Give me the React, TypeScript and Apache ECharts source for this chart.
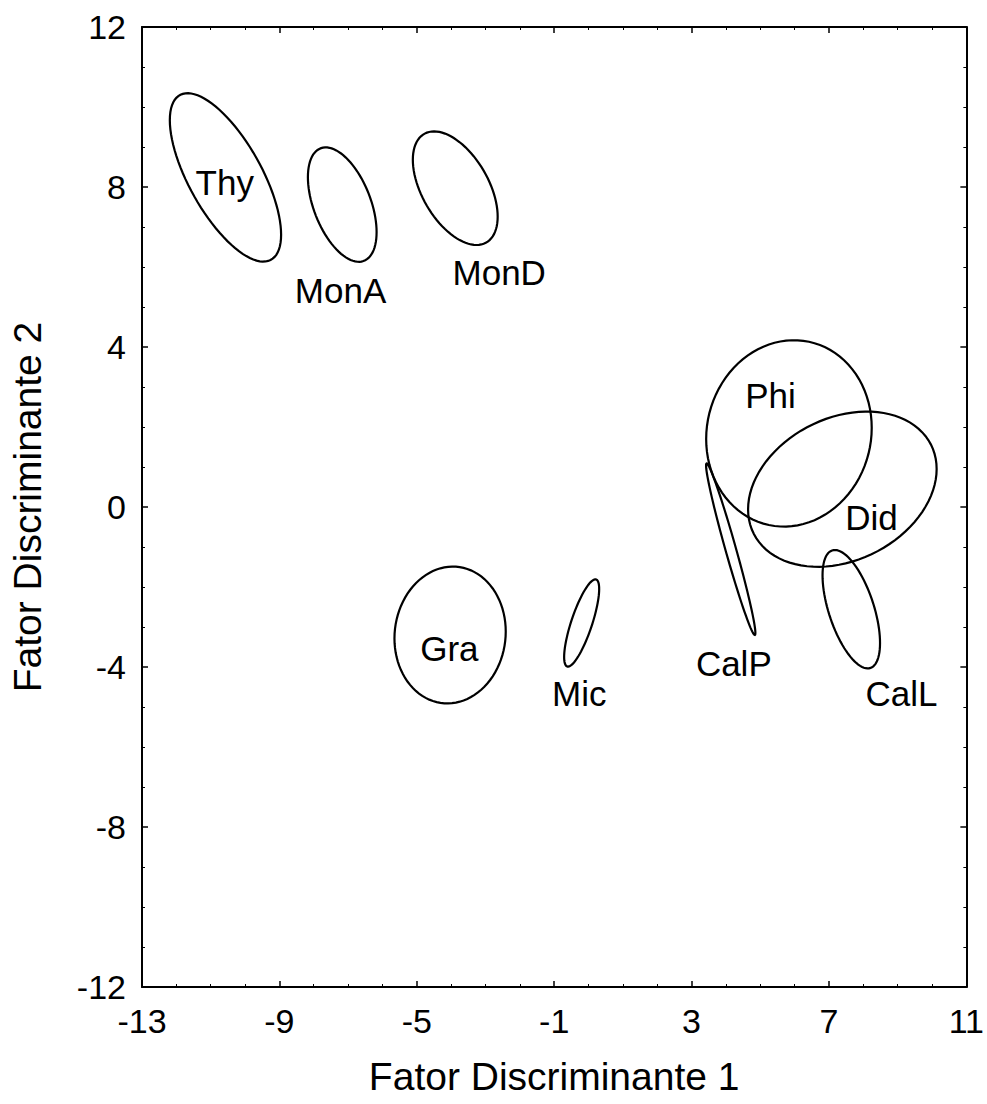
import React, { useEffect, useRef } from "react";
import * as echarts from "echarts";

// Ellipse groups (discriminant space)
const groupNames = ["Thy", "MonA", "MonD", "Gra", "Mic", "CalP", "Phi", "Did", "CalL"];
const centerX = [-10.57, -7.17, -3.88, -4.03, -0.2, 4.14, 5.835, 7.39, 7.65];
const centerY = [8.24, 7.56, 7.97, -3.2, -2.9, -1.055, 1.84, 0.445, -2.555];
const halfWidthX = [1.62, 1.0, 1.235, 1.62, 0.51, 0.718, 2.41, 2.745, 0.837];
const halfHeightY = [2.105, 1.43, 1.42, 1.71, 1.09, 2.145, 2.33, 1.94, 1.48];
const correlation = [-0.68, -0.48, -0.5, 0.05, 0.78, -0.975, 0.06, 0.26, -0.57];

// Label anchor positions
const labelX = [-10.59, -7.22, -2.6, -4.05, -0.27, 4.23, 5.3, 8.24, 9.11];
const labelY = [8.125, 5.425, 5.875, -3.525, -4.65, -3.9, 2.8, -0.25, -4.65];

// Axes
const xMin = -13, xMax = 11, xStep = 4;
const yMin = -12, yMax = 12, yStep = 4;
const xTitle = "Fator Discriminante 1";
const yTitle = "Fator Discriminante 2";

const FONT = "'Liberation Sans', Arial, Helvetica, sans-serif";

export default function App() {
  const ref = useRef<HTMLDivElement>(null);

  useEffect(() => {
    if (!ref.current) return;
    const chart = echarts.init(ref.current, undefined, { renderer: "svg" });

    const lineStyle = { color: "#000", width: 2 };
    const baseAxis = (extra: any) => ({
      type: "value",
      axisLine: { show: true, onZero: false, lineStyle },
      axisTick: { show: true, inside: true, length: 6, lineStyle: { color: "#000", width: 1.5 } },
      minorTick: { show: true, splitNumber: 4, length: 3, lineStyle: { color: "#000", width: 1 } },
      splitLine: { show: false },
      ...extra,
    });

    const steps = 90;
    const option: any = {
      animation: false,
      backgroundColor: "#fff",
      grid: { left: 142, right: 19, top: 27, bottom: 117, containLabel: false },
      xAxis: [
        baseAxis({
          position: "bottom",
          min: xMin,
          max: xMax,
          interval: xStep,
          name: xTitle,
          nameLocation: "middle",
          nameGap: 70,
          nameTextStyle: { fontFamily: FONT, fontSize: 39, color: "#000" },
          axisLabel: { fontFamily: FONT, fontSize: 34, color: "#000", margin: 17 },
        }),
        baseAxis({
          position: "top",
          min: xMin,
          max: xMax,
          interval: xStep,
          axisLabel: { show: false },
        }),
      ],
      yAxis: [
        baseAxis({
          position: "left",
          min: yMin,
          max: yMax,
          interval: yStep,
          name: yTitle,
          nameLocation: "middle",
          nameGap: 95,
          nameTextStyle: { fontFamily: FONT, fontSize: 39, color: "#000" },
          axisLabel: { fontFamily: FONT, fontSize: 34, color: "#000", margin: 16 },
        }),
        baseAxis({
          position: "right",
          min: yMin,
          max: yMax,
          interval: yStep,
          axisLabel: { show: false },
        }),
      ],
      series: [
        {
          type: "custom",
          xAxisIndex: 0,
          yAxisIndex: 0,
          silent: true,
          data: groupNames.map((_, i) => [centerX[i], centerY[i], i]),
          renderItem: (params: any, api: any) => {
            const i = api.value(2);
            const delta = Math.acos(correlation[i]);
            const pts: number[][] = [];
            for (let k = 0; k <= steps; k++) {
              const t = (k / steps) * Math.PI * 2;
              const x = centerX[i] + halfWidthX[i] * Math.cos(t);
              const y = centerY[i] + halfHeightY[i] * Math.cos(t - delta);
              pts.push(api.coord([x, y]));
            }
            return {
              type: "polygon",
              shape: { points: pts },
              style: { fill: "none", stroke: "#000", lineWidth: 2.2 },
            };
          },
        },
        {
          type: "custom",
          xAxisIndex: 0,
          yAxisIndex: 0,
          silent: true,
          data: groupNames.map((_, i) => [labelX[i], labelY[i], i]),
          renderItem: (params: any, api: any) => {
            const i = api.value(2);
            const p = api.coord([labelX[i], labelY[i]]);
            return {
              type: "text",
              x: p[0],
              y: p[1],
              style: {
                text: groupNames[i],
                fontFamily: FONT,
                fontSize: 35,
                fill: "#000",
                align: "center",
                verticalAlign: "middle",
              },
            };
          },
        },
      ],
    };

    chart.setOption(option);
    return () => chart.dispose();
  }, []);

  return (
    <div
      ref={ref}
      style={{ position: "fixed", left: 0, top: 0, width: 987, height: 1104, background: "#fff" }}
    />
  );
}
